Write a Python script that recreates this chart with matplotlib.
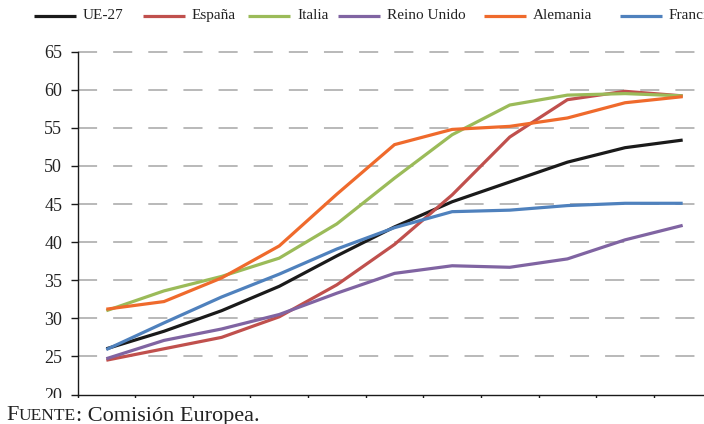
import matplotlib
matplotlib.use("Agg")
import matplotlib.pyplot as plt
from matplotlib.lines import Line2D
from matplotlib.patches import Rectangle

plt.rcParams['font.family'] = ['Liberation Serif', 'DejaVu Serif']

# Eleven yearly observations per series (no year labels on the axis)
periods = list(range(11))
series_names = ["UE-27", "España", "Italia", "Reino Unido", "Alemania", "Francia"]
ue27 = [26.0, 28.3, 31.0, 34.2, 38.2, 42.0, 45.3, 47.9, 50.5, 52.4, 53.4]
espana = [24.5, 26.0, 27.5, 30.2, 34.4, 39.7, 46.2, 53.8, 58.7, 59.8, 59.2]
italia = [31.0, 33.6, 35.5, 37.9, 42.4, 48.4, 54.1, 58.0, 59.3, 59.5, 59.2]
reino_unido = [24.7, 27.1, 28.6, 30.5, 33.3, 35.9, 36.9, 36.7, 37.8, 40.3, 42.2]
alemania = [31.2, 32.2, 35.3, 39.5, 46.3, 52.8, 54.8, 55.2, 56.3, 58.3, 59.1]
francia = [25.9, 29.4, 32.8, 35.8, 39.1, 41.9, 44.0, 44.2, 44.8, 45.1, 45.1]
y_ticks = [20, 25, 30, 35, 40, 45, 50, 55, 60, 65]
source_note = ("F", "UENTE", ": Comisión Europea.")

values = [ue27, espana, italia, reino_unido, alemania, francia]
colors = ["#1a1a1a", "#c0504d", "#9bbb59", "#8064a2", "#ef6a2c", "#4f81bd"]

W, H = 704, 424
fig = plt.figure(figsize=(W / 100, H / 100), dpi=100)
fig.patch.set_facecolor("white")

# axes box in pixel units (right edge runs past the figure border)
left_px, right_px, top_px, bottom_px = 77.5, 711.5, 51.7, 394.5
ax = fig.add_axes([left_px / W, 1 - bottom_px / H,
                   (right_px - left_px) / W, (bottom_px - top_px) / H])
ax.set_facecolor("none")

for name, vals, c in zip(series_names, values, colors):
    ax.plot(periods, vals, color=c, lw=2.3, solid_capstyle="butt",
            solid_joinstyle="miter", zorder=3)

ax.set_xlim(-0.5, 10.5)
ax.set_ylim(20, 65)
ax.set_yticks(y_ticks)
ax.set_yticklabels([str(v) for v in y_ticks])
ax.set_xticks([i - 0.5 for i in range(12)])
ax.set_xticklabels([])

# dashed horizontal gridlines
for v in y_ticks[1:]:
    ax.axhline(v, color="#a6a6a6", lw=1.1, dashes=(12.5, 10.5), zorder=1,
               clip_on=False)

for s in ["top", "right"]:
    ax.spines[s].set_visible(False)
for s in ["left", "bottom"]:
    ax.spines[s].set_color("#1a1a1a")
    ax.spines[s].set_linewidth(1.0)
ax.tick_params(axis="y", direction="out", length=5, width=1.0,
               colors="#1a1a1a", labelsize=13, pad=6, labelcolor="#222222")
ax.tick_params(axis="x", direction="out", length=4, width=1.0,
               colors="#1a1a1a")

# legend row across the top
leg_starts = [34, 143, 248, 338, 484, 620]
leg_y = 1 - 15.5 / H
for x0, name, c in zip(leg_starts, series_names, colors):
    fig.add_artist(Line2D([x0 / W, (x0 + 42) / W], [leg_y, leg_y],
                          color=c, lw=2.3, solid_capstyle="butt",
                          transform=fig.transFigure))
    fig.text((x0 + 49) / W, leg_y, name, fontsize=11, color="#222222",
             va="center", ha="left")

# white band at the bottom with the source note on top
fig.add_artist(Rectangle((0, 0), 1, 1 - 397.5 / H, transform=fig.transFigure,
                         facecolor="white", edgecolor="none", zorder=10))

fig.canvas.draw()
renderer = fig.canvas.get_renderer()
x = 6
base_y = 1 - 420.5 / H
sizes = [16, 12.5, 16]
for part, fs in zip(source_note, sizes):
    t = fig.text(x / W, base_y, part, fontsize=fs, color="#222222",
                 va="baseline", ha="left", zorder=11)
    bb = t.get_window_extent(renderer)
    x += bb.width

fig.savefig("out.png", dpi=100, facecolor="white")
